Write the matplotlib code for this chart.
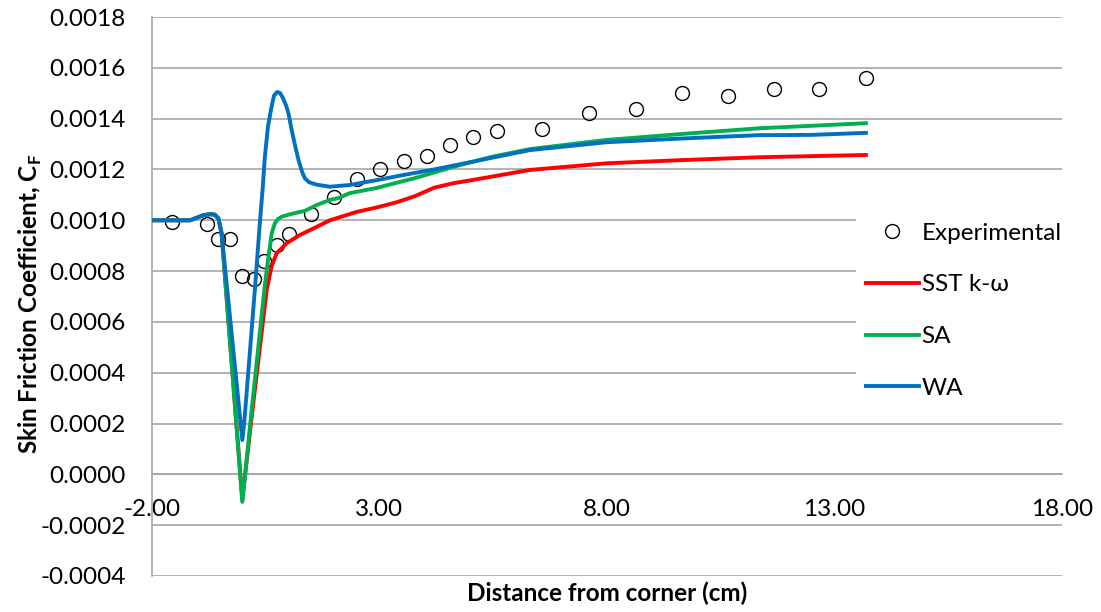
import matplotlib
matplotlib.use('agg')
import matplotlib.pyplot as plt
from matplotlib.lines import Line2D

# experimental points
exp_x = [-1.56, -0.79, -0.54, -0.28, -0.02, 0.24, 0.47, 0.75, 1.00, 1.50, 2.01, 2.51, 3.02,
         3.53, 4.04, 4.55, 5.06, 5.58, 6.57, 7.60, 8.63, 9.64, 10.67, 11.68, 12.67, 13.69]
exp_cf = [0.000993, 0.000986, 0.000925, 0.000927, 0.000781, 0.000768, 0.000839, 0.000903,
          0.000947, 0.001023, 0.001093, 0.001161, 0.001203, 0.001233, 0.001254, 0.001297,
          0.001329, 0.001351, 0.001360, 0.001421, 0.001438, 0.001501, 0.001489, 0.001518,
          0.001518, 0.001559]

# SST k-omega
sst_x = [-2.0, -1.5, -1.16, -0.87, -0.72, -0.62, -0.54, -0.47, -0.015, 0.2, 0.52, 0.63, 0.74,
         0.96, 1.25, 1.62, 1.91, 2.5, 2.93, 3.36, 3.78, 4.2, 4.6, 5.03, 6.3, 7.98, 9.67,
         11.34, 13.69]
sst_cf = [0.0010, 0.0010, 0.0010, 0.00102, 0.001024, 0.001022, 0.001007, 0.000948, -0.0001,
          0.00024, 0.000725, 0.00082, 0.00087, 0.00091, 0.000942, 0.000974, 0.001, 0.001033,
          0.00105, 0.00107, 0.001095, 0.001128, 0.001145, 0.001158, 0.001198, 0.001224,
          0.001237, 0.001248, 0.001257]

# SA
sa_x = [-2.0, -1.5, -1.16, -0.87, -0.72, -0.62, -0.54, -0.47, -0.015, 0.2, 0.48, 0.56, 0.63,
        0.70, 0.77, 0.85, 1.0, 1.18, 1.36, 1.62, 1.91, 2.09, 2.35, 2.93, 3.78, 4.62, 5.45,
        6.3, 7.98, 9.67, 11.34, 13.69]
sa_cf = [0.0010, 0.0010, 0.0010, 0.00102, 0.001024, 0.001022, 0.001007, 0.000948, -0.000108,
         0.00027, 0.000745, 0.000857, 0.000948, 0.000988, 0.001005, 0.001014, 0.001022,
         0.00103, 0.001037, 0.00106, 0.00108, 0.001087, 0.001107, 0.001127, 0.001166,
         0.00121, 0.001249, 0.00128, 0.001316, 0.00134, 0.001362, 0.001382]

# WA
wa_x = [-2.0, -1.5, -1.16, -0.87, -0.72, -0.62, -0.54, -0.47, -0.015, 0.03, 0.26, 0.37, 0.43,
        0.48, 0.55, 0.62, 0.68, 0.75, 0.82, 0.88, 0.95, 1.0, 1.07, 1.15, 1.22, 1.30, 1.36,
        1.45, 1.62, 1.91, 2.35, 3.0, 3.52, 4.2, 5.03, 6.3, 7.98, 9.67, 11.34, 12.5, 13.69]
wa_cf = [0.0010, 0.0010, 0.0010, 0.00102, 0.001024, 0.001022, 0.001007, 0.000948, 0.000135,
         0.00021, 0.000725, 0.000988, 0.00112, 0.00125, 0.00137, 0.00144, 0.00149, 0.001505,
         0.0015, 0.00148, 0.00145, 0.00142, 0.001355, 0.00129, 0.001237, 0.00119, 0.001165,
         0.00115, 0.00114, 0.001132, 0.001139, 0.00116, 0.001178, 0.0012, 0.00123, 0.001276,
         0.001307, 0.001322, 0.001335, 0.001336, 0.001344]

x_ticks = [-2, 3, 8, 13, 18]
x_labels = ['-2.00', '3.00', '8.00', '13.00', '18.00']
y_ticks = [-0.0004, -0.0002, 0.0, 0.0002, 0.0004, 0.0006, 0.0008, 0.0010, 0.0012, 0.0014, 0.0016, 0.0018]
y_labels = ['-0.0004', '-0.0002', '0.0000', '0.0002', '0.0004', '0.0006', '0.0008', '0.0010',
            '0.0012', '0.0014', '0.0016', '0.0018']

plt.rcParams['font.family'] = ['Lato', 'DejaVu Sans']
plt.rcParams['mathtext.fontset'] = 'custom'
plt.rcParams['mathtext.bf'] = 'Lato:bold'

fs = 17.5
W, H = 1101, 612
fig = plt.figure(figsize=(W / 100, H / 100), dpi=100)
ax = fig.add_axes([152 / W, 1 - 576 / H, 910 / W, 559 / H])

grid_c = '#A6A6A6'
ax.set_xlim(-2, 18)
ax.set_ylim(-0.0004, 0.0018)
ax.set_yticks(y_ticks)
ax.set_yticklabels(y_labels)
ax.set_xticks(x_ticks)
ax.set_xticklabels(x_labels)
ax.yaxis.grid(True, color=grid_c, lw=1.2)
ax.set_axisbelow(True)

for s in ['top', 'right']:
    ax.spines[s].set_visible(False)
ax.spines['left'].set_color(grid_c)
ax.spines['left'].set_linewidth(1.2)
ax.spines['bottom'].set_position(('data', 0))
ax.spines['bottom'].set_color(grid_c)
ax.spines['bottom'].set_linewidth(1.2)
ax.tick_params(axis='y', length=0, pad=19, labelsize=fs, labelcolor='#000000')
ax.tick_params(axis='x', length=0, pad=18, labelsize=fs, labelcolor='#000000')

ax.plot(exp_x, exp_cf, 'o', ms=10, mfc='none', mec='black', mew=1.0, zorder=2)
ax.plot(sst_x, sst_cf, color='#FF0000', lw=2.8, solid_joinstyle='round', zorder=3)
ax.plot(sa_x, sa_cf, color='#00B050', lw=2.8, solid_joinstyle='round', zorder=4)
ax.plot(wa_x, wa_cf, color='#0070C0', lw=2.8, solid_joinstyle='round', zorder=5)

ax.set_ylabel(r'Skin Friction Coefficient, C$_\mathbf{F}$', fontsize=fs, fontweight='bold',
              va='center')
ax.yaxis.set_label_coords(-122 / 910, 0.486)
ax.set_xlabel('Distance from corner (cm)', fontsize=fs, fontweight='bold', va='center')
ax.xaxis.set_label_coords(0.5, -17 / 559)

handles = [Line2D([], [], ls='none', marker='o', ms=10, mfc='none', mec='black', mew=1.0),
           Line2D([], [], color='#FF0000', lw=2.8),
           Line2D([], [], color='#00B050', lw=2.8),
           Line2D([], [], color='#0070C0', lw=2.8)]
names = ['Experimental', 'SST k-ω', 'SA', 'WA']
leg = fig.legend(handles, names, loc='upper left', bbox_to_anchor=(856 / W, 1 - 213 / H),
                 fontsize=fs, frameon=True, facecolor='white', edgecolor='none', framealpha=1,
                 fancybox=False, handlelength=2.2, handletextpad=0.1, labelspacing=1.26,
                 borderaxespad=0, borderpad=0.4)

fig.savefig('out.png', dpi=100)
